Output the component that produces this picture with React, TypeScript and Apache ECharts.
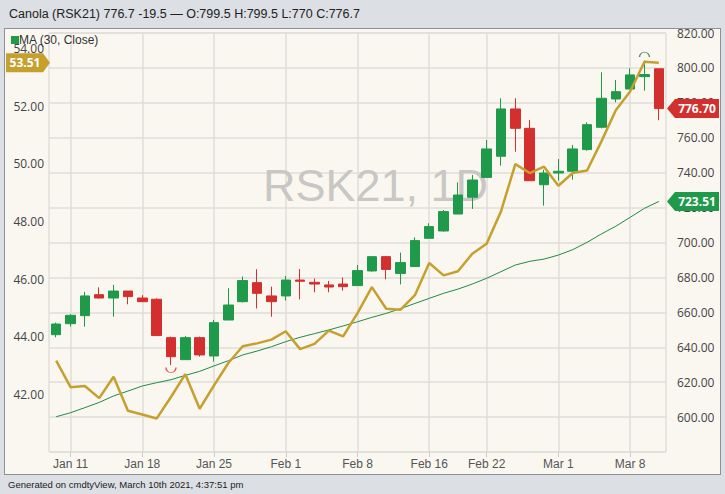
import React, { useEffect, useRef } from "react";
import * as echarts from "echarts";

const dates = [
  "Jan 8", "Jan 11", "Jan 12", "Jan 13", "Jan 14", "Jan 15", "Jan 18", "Jan 19", "Jan 20", "Jan 21", "Jan 22",
  "Jan 25", "Jan 26", "Jan 27", "Jan 28", "Jan 29", "Feb 1", "Feb 2", "Feb 3", "Feb 4", "Feb 5",
  "Feb 8", "Feb 9", "Feb 10", "Feb 11", "Feb 12", "Feb 16", "Feb 17", "Feb 18", "Feb 19",
  "Feb 22", "Feb 23", "Feb 24", "Feb 25", "Feb 26", "Mar 1", "Mar 2", "Mar 3", "Mar 4", "Mar 5",
  "Mar 8", "Mar 9", "Mar 10",
];
const tickLabels = ["Jan 11", "Jan 18", "Jan 25", "Feb 1", "Feb 8", "Feb 16", "Feb 22", "Mar 1", "Mar 8"];

const opens = [
  647.2, 653.5, 658.1, 670.1, 668.2, 672.2, 668.2, 667.5, 645.5, 632.9, 645.5,
  635.0, 655.6, 666.1, 677.0, 669.4, 669.4, 678.5, 677.2, 675.7, 676.2,
  675.3, 683.7, 691.9, 682.3, 686.2, 702.4, 706.6, 716.3, 725.9,
  737.3, 749.4, 776.5, 765.4, 733.1, 739.8, 740.8, 753.2, 766.0, 782.2,
  787.9, 795.0, 799.5,
];
const highs = [
  654.1, 658.9, 671.7, 674.3, 675.7, 672.2, 669.8, 668.0, 646.1, 646.5, 646.1,
  655.6, 673.8, 680.5, 684.7, 674.7, 680.8, 684.8, 679.3, 678.0, 680.0,
  687.1, 692.3, 692.3, 694.2, 703.0, 711.0, 718.6, 734.5, 738.7,
  758.7, 782.6, 782.6, 770.2, 741.7, 747.8, 755.9, 768.8, 797.5, 793.1,
  799.8, 804.2, 799.5,
];
const lows = [
  645.7, 651.8, 651.8, 668.0, 657.5, 664.6, 666.0, 646.5, 629.8, 632.9, 634.6,
  631.8, 655.6, 665.6, 662.2, 657.5, 666.7, 667.4, 671.5, 671.5, 672.4,
  675.3, 683.3, 678.9, 676.0, 686.2, 702.4, 706.2, 716.3, 719.2,
  737.3, 744.0, 752.0, 735.4, 721.1, 735.4, 736.0, 752.6, 765.4, 780.3,
  787.9, 787.0, 770.0,
];
const closes = [
  653.3, 658.3, 669.4, 668.2, 672.2, 669.0, 666.1, 646.7, 634.6, 645.5, 635.6,
  654.1, 664.2, 678.2, 670.9, 666.1, 678.5, 677.8, 676.2, 674.5, 674.7,
  683.9, 691.9, 684.6, 688.5, 701.1, 709.1, 717.7, 727.2, 735.8,
  753.6, 776.5, 765.4, 735.4, 739.8, 740.8, 753.6, 767.5, 782.6, 786.4,
  796.0, 796.2, 776.7,
];
const goldLine = [
  43.17, 42.25, 42.29, 41.87, 42.61, 41.43, 41.30, 41.16, 41.91, 42.70, 41.50,
  42.31, 43.09, 43.67, 43.77, 43.90, 44.19, 43.57, 43.75, 44.21, 44.01,
  44.82, 45.72, 44.97, 44.94, 45.44, 46.56, 46.13, 46.27, 46.88,
  47.23, 48.35, 49.99, 49.68, 49.90, 49.24, 49.68, 49.77, 50.78, 51.86,
  52.51, 53.54, 53.51,
];
const maLine = [
  600.2, 602.5, 605.4, 608.4, 612.1, 614.9, 617.8, 619.7, 621.4, 623.9, 626.2,
  629.3, 632.3, 635.6, 637.8, 640.3, 643.2, 645.7, 647.8, 649.9, 652.2,
  654.6, 657.1, 659.4, 662.1, 665.1, 668.0, 670.9, 673.3, 676.2,
  679.5, 683.3, 687.1, 689.2, 690.5, 692.8, 695.9, 700.1, 704.9, 709.3,
  714.4, 719.6, 723.51,
];

const titleText = "Canola (RSK21) 776.7 -19.5 \u2014 O:799.5 H:799.5 L:770 C:776.7";
const footerText = "Generated on cmdtyView, March 10th 2021, 4:37:51 pm";
const legendText = "MA (30, Close)";
const watermarkText = "RSK21, 1D";

const UP = "#1f9a4a";
const DOWN = "#d22f2e";
const GOLD = "#c6a02e";
const MA_GREEN = "#1f8a45";
const GRID_LINE = "#e1ded9";

export default function App() {
  const ref = useRef<HTMLDivElement>(null);

  useEffect(() => {
    const chart = echarts.init(ref.current!, null, { renderer: "svg" });
    const showTick = (_i: number, v: string) => tickLabels.indexOf(v) >= 0;

    let lowIdx = 0;
    let highIdx = 0;
    lows.forEach((v, i) => { if (v < lows[lowIdx]) lowIdx = i; });
    highs.forEach((v, i) => { if (v > highs[highIdx]) highIdx = i; });

    const gridLeft = 49;
    const gridRightPx = 666;
    const gridTop = 33;
    const gridBottomPx = 452;

    chart.setOption({
      animation: false,
      backgroundColor: "transparent",
      textStyle: { fontFamily: "'Liberation Sans', Arial, sans-serif" },
      grid: {
        left: gridLeft,
        right: 725 - gridRightPx,
        top: gridTop,
        bottom: 494 - gridBottomPx,
        show: true,
        borderColor: "#d6d3ce",
        borderWidth: 1,
        backgroundColor: "transparent",
      },
      xAxis: {
        type: "category",
        data: dates,
        boundaryGap: true,
        axisLine: { show: false },
        axisTick: { show: true, alignWithLabel: true, interval: showTick, length: 5, lineStyle: { color: "#cfccc7" } },
        axisLabel: {
          interval: showTick,
          color: "#555",
          fontSize: 12,
          fontFamily: "'Liberation Sans Narrow', 'Liberation Sans', sans-serif",
          margin: 6,
        },
        splitLine: { show: true, alignWithLabel: true, interval: showTick, lineStyle: { color: GRID_LINE, width: 1.5 } } as any,
      },
      yAxis: [
        {
          type: "value",
          position: "left",
          min: 40,
          max: 54.54,
          interval: 2,
          splitLine: { show: false },
          axisLine: { show: false },
          axisTick: { show: false },
          axisLabel: {
            formatter: (v: number) => v.toFixed(2),
            showMinLabel: false,
            showMaxLabel: false,
            color: "#444",
            fontSize: 12,
            fontFamily: "'Open Sans', sans-serif",
            margin: 5,
          },
        },
        {
          type: "value",
          position: "right",
          min: 580,
          max: 820,
          interval: 20,
          splitLine: { show: true, lineStyle: { color: GRID_LINE, width: 1.5 } },
          axisLine: { show: false },
          axisTick: { show: false },
          axisLabel: {
            formatter: (v: number) => v.toFixed(2),
            showMinLabel: false,
            color: "#444",
            fontSize: 12,
            fontFamily: "'Open Sans', sans-serif",
            margin: 11,
          },
        },
      ],
      series: [
        {
          type: "candlestick",
          yAxisIndex: 1,
          barWidth: 10,
          data: dates.map((_, i) => [opens[i], closes[i], lows[i], highs[i]]),
          itemStyle: { color: UP, color0: DOWN, borderColor: UP, borderColor0: DOWN, borderWidth: 1 },
          z: 3,
        },
        {
          type: "line",
          yAxisIndex: 1,
          data: maLine,
          symbol: "none",
          lineStyle: { color: MA_GREEN, width: 1 },
          z: 4,
        },
        {
          type: "line",
          yAxisIndex: 0,
          data: goldLine,
          symbol: "none",
          lineStyle: { color: GOLD, width: 2.5 },
          z: 5,
        },
        {
          type: "scatter",
          yAxisIndex: 1,
          symbolSize: [10, 5],
          z: 6,
          data: [
            {
              value: [dates[lowIdx], lows[lowIdx]],
              symbol: "path://M0 0A5 5 0 0 0 10 0",
              symbolOffset: [0, 5],
              itemStyle: { color: "rgba(0,0,0,0)", borderColor: DOWN, borderWidth: 1 },
            },
            {
              value: [dates[highIdx], highs[highIdx]],
              symbol: "path://M0 5A5 5 0 0 1 10 5",
              symbolOffset: [0, -6],
              itemStyle: { color: "rgba(0,0,0,0)", borderColor: "#2e6f48", borderWidth: 1 },
            },
          ],
        },
      ],
    });

    const last = dates.length - 1;
    const yClose = chart.convertToPixel({ yAxisIndex: 1 }, closes[last]) as number;
    const yMa = chart.convertToPixel({ yAxisIndex: 1 }, maLine[last]) as number;
    const yGold = chart.convertToPixel({ yAxisIndex: 0 }, goldLine[last]) as number;

    const tagFont = "bold 12px 'Open Sans', sans-serif";
    const rightTag = (y: number, label: string, color: string) => [
      {
        type: "polygon",
        z: 20,
        shape: { points: [[gridRightPx + 1, y], [gridRightPx + 9, y - 9.5], [719, y - 9.5], [719, y + 9.5], [gridRightPx + 9, y + 9.5]] },
        style: { fill: color },
      },
      {
        type: "text",
        z: 21,
        x: (gridRightPx + 9 + 719) / 2,
        y,
        style: { text: label, fill: "#fff", font: tagFont, align: "center", verticalAlign: "middle", textAlign: "center", textVerticalAlign: "middle" },
      },
    ];
    const leftTag = (y: number, label: string, color: string) => [
      {
        type: "polygon",
        z: 20,
        shape: { points: [[6, y - 9.5], [43, y - 9.5], [gridLeft + 1, y], [43, y + 9.5], [6, y + 9.5]] },
        style: { fill: color },
      },
      {
        type: "text",
        z: 21,
        x: 25,
        y,
        style: { text: label, fill: "#fff", font: tagFont, align: "center", verticalAlign: "middle", textAlign: "center", textVerticalAlign: "middle" },
      },
    ];

    chart.setOption({
      graphic: [
        {
          type: "text",
          z: 1,
          x: 263,
          y: 185,
          style: {
            text: watermarkText,
            fill: "#c9c7c3",
            font: "45px 'Liberation Sans', Arial, sans-serif",
            align: "left",
            verticalAlign: "middle",
            textAlign: "left",
            textVerticalAlign: "middle",
          },
        },
        {
          type: "text",
          z: 20,
          x: 9,
          y: 14,
          style: { text: titleText, fill: "#222", font: "12.5px 'Liberation Sans', Arial, sans-serif", verticalAlign: "middle", textVerticalAlign: "middle" },
        },
        {
          type: "text",
          z: 20,
          x: 8,
          y: 484,
          style: { text: footerText, fill: "#222", font: "9.5px 'Liberation Sans', Arial, sans-serif", verticalAlign: "middle", textVerticalAlign: "middle" },
        },
        { type: "rect", z: 20, shape: { x: 11, y: 36, width: 8, height: 8 }, style: { fill: UP } },
        {
          type: "text",
          z: 21,
          x: 19,
          y: 40,
          style: { text: legendText, fill: "#333", font: "12px 'Liberation Sans', Arial, sans-serif", verticalAlign: "middle", textVerticalAlign: "middle" },
        },
        ...rightTag(yClose, closes[last].toFixed(2), DOWN),
        ...rightTag(yMa, maLine[last].toFixed(2), UP),
        ...leftTag(yGold, goldLine[last].toFixed(2), GOLD),
      ],
    });

    return () => chart.dispose();
  }, []);

  return (
    <div style={{ position: "fixed", left: 0, top: 0, width: 725, height: 494, background: "#dcdfe3", overflow: "hidden" }}>
      <div
        style={{
          position: "absolute",
          left: 4,
          top: 28,
          width: 717,
          height: 447,
          background: "#faf7f1",
          border: "1px solid #8e9194",
          boxSizing: "border-box",
        }}
      />
      <div ref={ref} style={{ position: "absolute", left: 0, top: 0, width: 725, height: 494 }} />
    </div>
  );
}
